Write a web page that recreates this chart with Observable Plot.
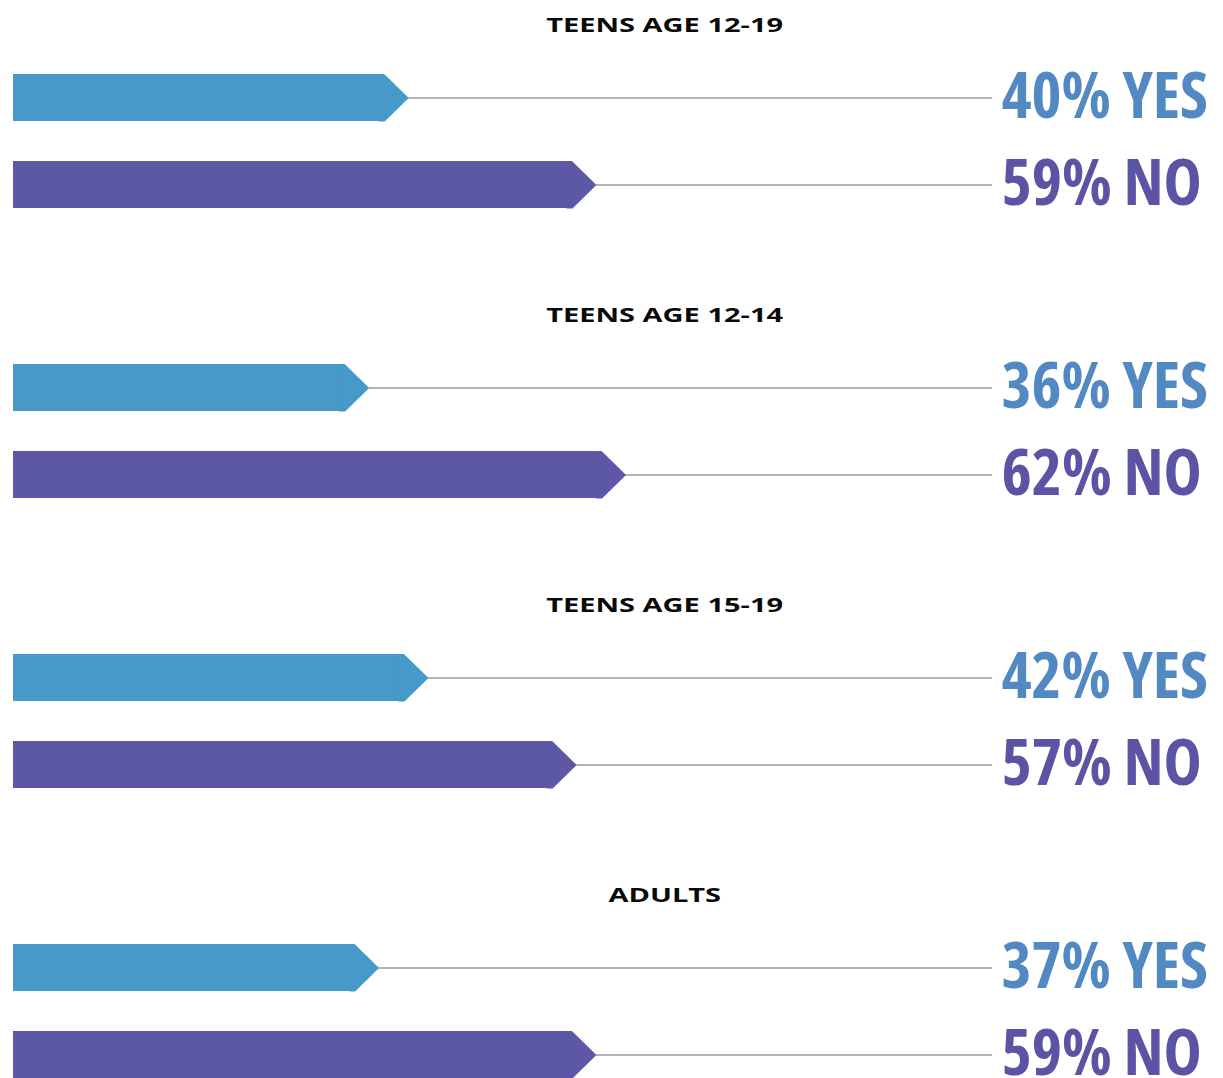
<!DOCTYPE html>
<html>
<head>
<meta charset="utf-8">
<script src="https://cdn.jsdelivr.net/npm/d3@7"></script>
<script src="https://cdn.jsdelivr.net/npm/@observablehq/plot@0.6"></script>
<style>
  html, body { margin: 0; padding: 0; background: #fff; }
  #chart { width: 1223px; }
  .group { height: 290px; }
  .gtitle {
    height: 61.5px; line-height: 50px;
    padding-left: 107px; text-align: center;
    font-family: "Open Sans", "Noto Sans", sans-serif;
    font-weight: 700; font-size: 20px; color: #0a0a0a;
  }
  .gtitle span { display: inline-block; transform: scaleX(1.45); transform-origin: center; }
  .group svg { display: block; overflow: visible; }
</style>
</head>
<body>
<div id="chart"></div>
<script>
const groups = ["TEENS AGE 12-19", "TEENS AGE 12-14", "TEENS AGE 15-19", "ADULTS"];
const yesValues = [40, 36, 42, 37];
const noValues = [59, 62, 57, 59];
const answers = ["Yes", "No"];
const answerLabels = ["YES", "NO"];

const barColors = {Yes: "#4799c9", No: "#5c58a6"};
const labelColors = {Yes: "#5289c2", No: "#5b53a4"};

// chevron tip at the end of each bar (overlaps the bar body slightly)
const tipSymbol = {
  draw(context) {
    context.moveTo(-30, -23.5);
    context.lineTo(-24, -23.5);
    context.lineTo(0, 0);
    context.lineTo(-24, 23.5);
    context.lineTo(-30, 23.5);
    context.closePath();
  }
};

const labelCondense = 0.8; // the label face is a condensed one

const root = document.getElementById("chart");

groups.forEach((g, i) => {
  const data = answers.map((a, j) => ({
    group: g,
    answer: a,
    label: answerLabels[j],
    value: j === 0 ? yesValues[i] : noValues[i]
  }));

  const wrap = document.createElement("div");
  wrap.className = "group";
  const title = document.createElement("div");
  title.className = "gtitle";
  const span = document.createElement("span");
  span.textContent = g;
  title.appendChild(span);
  wrap.appendChild(title);

  const plot = Plot.plot({
    width: 1223,
    height: 158,
    marginLeft: 13,
    marginRight: 222,
    marginTop: 12,
    marginBottom: 12,
    x: {domain: [0, 100], axis: null},
    y: {domain: answers, axis: null, paddingInner: 40 / 87, paddingOuter: 0},
    marks: [
      Plot.ruleY(data, {y: "answer", x1: "value", x2: 100, stroke: "#9a9a9a", strokeWidth: 1.6, insetRight: 9}),
      Plot.barX(data, {x1: 0, x2: "value", y: "answer", fill: d => barColors[d.answer], insetRight: 24}),
      Plot.dot(data, {x: "value", y: "answer", symbol: tipSymbol, fill: d => barColors[d.answer], stroke: "none"}),
      Plot.text(data, {
        x: 100, y: "answer",
        text: d => `${d.value}% ${d.label}`,
        textAnchor: "start",
        fill: d => labelColors[d.answer],
        fontSize: 64, fontWeight: 700,
        fontFamily: "'Open Sans', 'Noto Sans', sans-serif",
        className: "vlabel"
      })
    ]
  });
  wrap.appendChild(plot);
  root.appendChild(wrap);

  // condense the value labels horizontally (real font-stretch when available)
  const g0 = plot.querySelector(".vlabel");
  const texts = Array.from(plot.querySelectorAll(".vlabel text"));
  const targets = texts.map(t => t.getComputedTextLength() * labelCondense);
  g0.setAttribute("font-stretch", "75%");
  g0.style.fontStretch = "75%";
  texts.forEach((t, k) => {
    const w = t.getComputedTextLength();
    if (Math.abs(w - targets[k]) > 1) {
      t.setAttribute("textLength", targets[k].toFixed(1));
      t.setAttribute("lengthAdjust", "spacingAndGlyphs");
    }
  });
});
</script>
</body>
</html>
